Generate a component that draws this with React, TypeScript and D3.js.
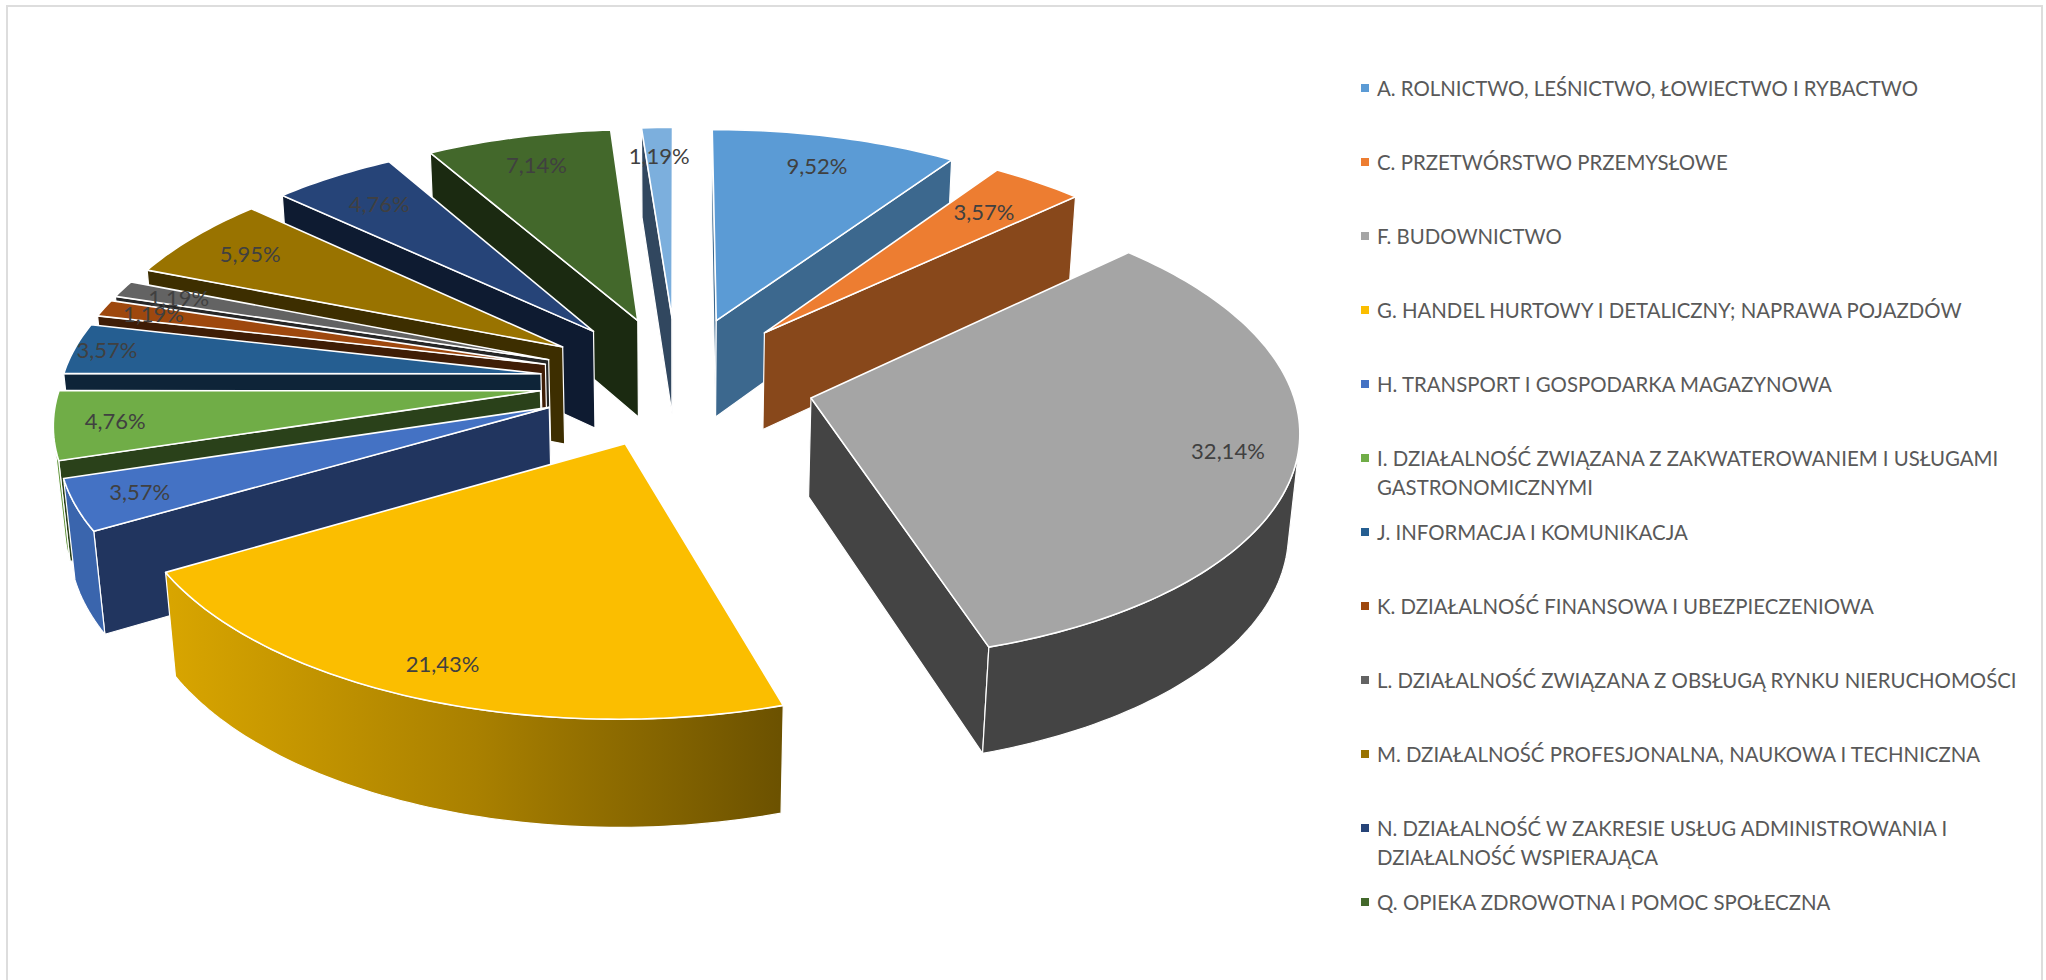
import React from "react";
import * as d3 from "d3";

// Share of companies per PKD section
const sections = [
  "A. ROLNICTWO, LEŚNICTWO, ŁOWIECTWO I RYBACTWO",
  "C. PRZETWÓRSTWO PRZEMYSŁOWE",
  "F. BUDOWNICTWO",
  "G. HANDEL HURTOWY I DETALICZNY; NAPRAWA POJAZDÓW",
  "H. TRANSPORT I GOSPODARKA MAGAZYNOWA",
  "I. DZIAŁALNOŚĆ ZWIĄZANA Z ZAKWATEROWANIEM I USŁUGAMI|GASTRONOMICZNYMI",
  "J. INFORMACJA I KOMUNIKACJA",
  "K. DZIAŁALNOŚĆ FINANSOWA I UBEZPIECZENIOWA",
  "L. DZIAŁALNOŚĆ ZWIĄZANA Z OBSŁUGĄ RYNKU NIERUCHOMOŚCI",
  "M. DZIAŁALNOŚĆ PROFESJONALNA, NAUKOWA I TECHNICZNA",
  "N. DZIAŁALNOŚĆ W ZAKRESIE USŁUG ADMINISTROWANIA I|DZIAŁALNOŚĆ WSPIERAJĄCA",
  "Q. OPIEKA ZDROWOTNA I POMOC SPOŁECZNA",
];
const shares = [9.52, 3.57, 32.14, 21.43, 3.57, 4.76, 3.57, 1.19, 1.19, 5.95, 4.76, 7.14, 1.19];
const topColors = ["#5B9BD5", "#ED7D31", "#A5A5A5", "#FBBE00", "#4472C4", "#70AD47", "#255E91", "#9E480E", "#636363", "#997300", "#264478", "#43682B", "#7CAFDD"];
const wallColors = ["#3C688E", "#88481B", "#444444", "#8A6A00", "#21355F", "#2A411A", "#0E2438", "#3F1D06", "#262626", "#3D2E00", "#0E1B31", "#1B2A11", "#31475F"];
const rimColors = ["#3C688E", "#88481B", "#444444", "url(#rimG)", "#3A65AD", "#5F9438", "#0E2438", "#3F1D06", "#262626", "#3D2E00", "#0E1B31", "#1B2A11", "#31475F"];
// Distance of each value label from the slice tip, as a fraction of the radius
const labelRadii = [0.83, 0.79, 0.862, 0.88, 0.87, 0.875, 0.93, 0.885, 0.865, 0.84, 0.811, 0.834, 0.833];

// Perspective camera of the tilted pie (ground plane -> screen)
const cx = 677, cy = 381, scaleX = 479, scaleY = 227, tilt = 0.118, height = 100, sink = 0.018, explode = 0.287;
const W = 2046, H = 980;

type Pt = [number, number];
const project = (gx: number, gy: number, z: number): Pt => {
  const w = 1 + tilt * gy + sink * z;
  return [cx + (scaleX * gx) / w, cy + (-scaleY * gy + height * z) / w];
};

const slices = d3.pie<number>().sort(null).value((v) => v)(shares);
const closed = d3.line<Pt>().curve(d3.curveLinearClosed);
// Positive when the points run clockwise on screen
const signedArea = (q: Pt[]) => -d3.polygonArea(q);

type Face = { d: string; fill: string };
type Built = { i: number; depth: number; faces: Face[]; top: string; label: Pt; text: string };

const built: Built[] = slices.map((s, i) => {
  const mid = (s.startAngle + s.endAngle) / 2;
  const ax = explode * Math.sin(mid);
  const ay = explode * Math.cos(mid);
  const steps = Math.max(2, Math.ceil((s.endAngle - s.startAngle) / 0.02));
  const angles = d3.range(steps + 1).map((k) => s.startAngle + ((s.endAngle - s.startAngle) * k) / steps);
  const rimAt = (a: number, z: number) => project(ax + Math.sin(a), ay + Math.cos(a), z);
  const apexTop = project(ax, ay, 0);
  const apexBottom = project(ax, ay, 1);
  const faces: Face[] = [];

  // Straight walls: the one facing the viewer depends on the slice direction
  const wall = (a: number): Pt[] => [apexTop, rimAt(a, 0), rimAt(a, 1), apexBottom];
  const startWall = wall(s.startAngle);
  const endWall = wall(s.endAngle);
  if (signedArea(startWall) < 0) faces.push({ d: closed(startWall)!, fill: wallColors[i] });
  if (signedArea(endWall) > 0) faces.push({ d: closed(endWall)!, fill: wallColors[i] });

  // Curved rim: keep only runs of segments that face the viewer
  let run: number[] = [];
  const flush = () => {
    if (run.length > 1) {
      const poly = [...run.map((a) => rimAt(a, 0)), ...run.slice().reverse().map((a) => rimAt(a, 1))];
      faces.push({ d: closed(poly)!, fill: rimColors[i] });
    }
    run = [];
  };
  for (let k = 0; k < steps; k++) {
    const a0 = angles[k], a1 = angles[k + 1];
    const q = [rimAt(a0, 0), rimAt(a1, 0), rimAt(a1, 1), rimAt(a0, 1)];
    if (signedArea(q) < 0) {
      if (!run.length) run.push(a0);
      run.push(a1);
    } else flush();
  }
  flush();

  const top = closed([apexTop, ...angles.map((a) => rimAt(a, 0))])!;
  const r = labelRadii[i];
  return {
    i,
    depth: Math.cos(mid),
    faces,
    top,
    label: project(ax + r * Math.sin(mid), ay + r * Math.cos(mid), 0),
    text: s.value.toFixed(2).replace(".", ",") + "%",
  };
});
const drawOrder = built.slice().sort((a, b) => d3.descending(a.depth, b.depth));

const legendY = d3.scaleLinear().domain([0, sections.length - 1]).range([88.5, 902.5]);
const font = "Lato, 'Open Sans', sans-serif";

export default function App() {
  return (
    <svg width={W} height={H} style={{ position: "fixed", left: 0, top: 0, background: "#fff" }}>
      <defs>
        <linearGradient id="rimG" gradientUnits="userSpaceOnUse" x1={170} x2={785} y1={0} y2={0}>
          <stop offset="0" stopColor="#D8A500" />
          <stop offset="0.5" stopColor="#A98000" />
          <stop offset="1" stopColor="#6B5100" />
        </linearGradient>
      </defs>
      <rect x={7} y={6} width={2035} height={980} fill="none" stroke="#DDDDDD" strokeWidth={2} />
      {drawOrder.map((b) => (
        <g key={b.i}>
          {b.faces.map((f, k) => (
            <path key={k} d={f.d} fill={f.fill} stroke="#fff" strokeWidth={1.2} strokeLinejoin="round" />
          ))}
          <path d={b.top} fill={topColors[b.i]} stroke="#fff" strokeWidth={1.6} strokeLinejoin="round" />
        </g>
      ))}
      {built.map((b) => (
        <text key={b.i} x={b.label[0]} y={b.label[1]} dy="0.35em" textAnchor="middle" fontFamily={font} fontSize={22} fill="#404040">
          {b.text}
        </text>
      ))}
      {sections.map((name, i) => {
        const y = legendY(i);
        return (
          <g key={name}>
            <rect x={1361} y={y - 4.5} width={8} height={8} fill={topColors[i]} />
            {name.split("|").map((line, k) => (
              <text key={k} x={1377} y={y + k * 29.5} dy="0.35em" fontFamily={font} fontSize={20.4} fill="#595959">
                {line}
              </text>
            ))}
          </g>
        );
      })}
    </svg>
  );
}
